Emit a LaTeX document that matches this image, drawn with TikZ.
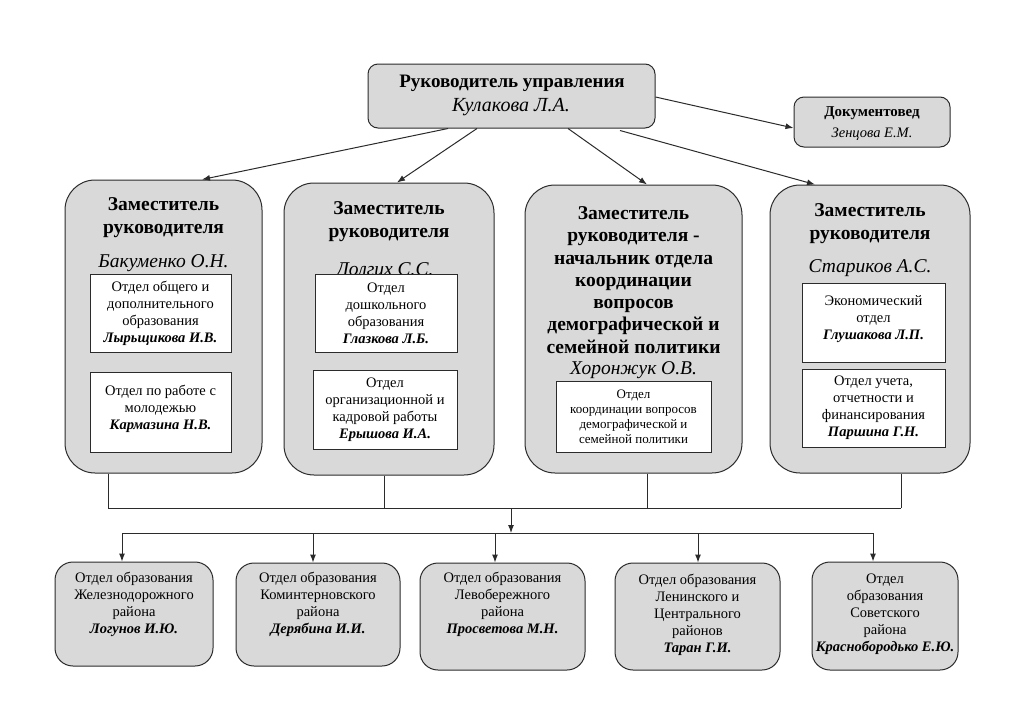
\documentclass[tikz,border=0pt]{standalone}
\usepackage{fontspec}
\setmainfont{Liberation Serif}
\usepackage{tikz}
\usetikzlibrary{arrows.meta}
\definecolor{boxgray}{HTML}{D9D9D9}
\definecolor{edgegray}{HTML}{2B2B2B}
\newcommand{\bfi}[1]{\textbf{\textit{#1}}}

\begin{document}
\begin{tikzpicture}[x=1pt, y=-1pt,
    graybox/.style={draw=edgegray, fill=boxgray, line width=1pt, rounded corners=#1, inner sep=0pt},
    whitebox/.style={draw=edgegray, fill=white, line width=0.9pt, inner sep=0pt, align=center,
        font=\fontsize{14.5}{17}\selectfont},
    titletext/.style={align=center, inner sep=0pt, font=\fontsize{19.5}{22.3}\selectfont\bfseries},
    nametext/.style={inner sep=0pt, font=\fontsize{19.5}{22}\selectfont\itshape},
    bodytext/.style={align=center, inner sep=0pt, anchor=north, font=\fontsize{14.5}{17}\selectfont},
    link/.style={draw=edgegray, line width=1pt},
    arr/.style={link, -{Latex[length=8pt, width=6pt]}}]
        \useasboundingbox (0,0) rectangle (1024,723);
        \fill [white] (0,0) rectangle (1024,723);
        \node[graybox=10pt, minimum width=287pt, minimum height=64pt] (head) at (511.5,96) {};
        \node[titletext, font=\fontsize{19}{22}\selectfont\bfseries] (headtitle) at (512,83) {Руководитель управления};
        \node[nametext, font=\fontsize{20}{22}\selectfont\itshape] (headname) at (511,107) {Кулакова Л.А.};
        \node[graybox=10pt, minimum width=156pt, minimum height=50pt] (doc) at (872,122) {};
        \node[titletext, font=\fontsize{15}{17}\selectfont\bfseries] (doctitle) at (872,113) {Документовед};
        \node[nametext, font=\fontsize{14.5}{17}\selectfont\itshape] (docname) at (872,134) {Зенцова Е.М.};
        \node[graybox=30pt, minimum width=197pt, minimum height=293pt] (dep1) at (163.5,326.5) {};
        \node[graybox=30pt, minimum width=210pt, minimum height=292pt] (dep2) at (389,329) {};
        \node[graybox=30pt, minimum width=217pt, minimum height=288pt] (dep3) at (633.5,329) {};
        \node[graybox=30pt, minimum width=200pt, minimum height=288pt] (dep4) at (870,329) {};
        \node[titletext] (deptitle1) at (163.5,217.5) {Заместитель\\руководителя};
        \node[nametext] (depname1) at (163.5,263) {Бакуменко О.Н.};
        \node[titletext] (deptitle2) at (389,221.5) {Заместитель\\руководителя};
        \node[nametext] (depname2) at (385,271) {Долгих С.С.};
        \node[titletext] (deptitle3) at (633.5,280) {Заместитель\\руководителя -\\начальник отдела\\координации\\вопросов\\демографической и\\семейной политики};
        \node[nametext] (depname3) at (633.5,370) {Хоронжук О.В.};
        \node[titletext] (deptitle4) at (870,223.5) {Заместитель\\руководителя};
        \node[nametext] (depname4) at (870,268) {Стариков А.С.};
        \node[whitebox, minimum width=141pt, minimum height=78pt] (unit11) at (160.5,313) {Отдел общего и\\дополнительного\\образования\\\bfi{Лырьщикова И.В.}};
        \node[whitebox, minimum width=141pt, minimum height=80pt] (unit12) at (160.5,412) {Отдел по работе с\\молодежью\\\bfi{Кармазина Н.В.}\\[-7pt]};
        \node[whitebox, minimum width=142pt, minimum height=78pt] (unit21) at (386,313) {Отдел\\дошкольного\\образования\\\bfi{Глазкова Л.Б.}};
        \node[whitebox, minimum width=144pt, minimum height=79pt] (unit22) at (385,409.5) {Отдел\\организационной и\\кадровой работы\\\bfi{Ерышова И.А.}};
        \node[whitebox, minimum width=155pt, minimum height=71pt, font=\fontsize{13}{15}\selectfont] (unit31) at (633.5,416.5) {Отдел\\координации вопросов\\демографической и\\семейной политики};
        \node[whitebox, minimum width=143pt, minimum height=79pt] (unit41) at (873.5,322.5) {Экономический\\отдел\\\bfi{Глушакова Л.П.}\\[-8pt]};
        \node[whitebox, minimum width=143pt, minimum height=78pt] (unit42) at (873.5,408) {Отдел учета,\\отчетности и\\финансирования\\\bfi{Паршина Г.Н.}};
        \node[graybox=18pt, minimum width=158pt, minimum height=104pt] (dist1) at (134,614) {};
        \node[graybox=18pt, minimum width=164pt, minimum height=103pt] (dist2) at (318,614.5) {};
        \node[graybox=18pt, minimum width=165pt, minimum height=107pt] (dist3) at (502.5,616.5) {};
        \node[graybox=18pt, minimum width=165pt, minimum height=107pt] (dist4) at (697.5,616.5) {};
        \node[graybox=18pt, minimum width=146pt, minimum height=108pt] (dist5) at (885,616) {};
        \node[bodytext] (disttext1) at (134,572) {Отдел образования\\Железнодорожного\\района\\\bfi{Логунов И.Ю.}};
        \node[bodytext] (disttext2) at (318,572) {Отдел образования\\Коминтерновского\\района\\\bfi{Дерябина И.И.}};
        \node[bodytext] (disttext3) at (502.5,572) {Отдел образования\\Левобережного\\района\\\bfi{Просветова М.Н.}};
        \node[bodytext] (disttext4) at (697.5,574) {Отдел образования\\Ленинского и\\Центрального\\районов\\\bfi{Таран Г.И.}};
        \node[bodytext] (disttext5) at (885,574) {Отдел\\образования\\Советского\\района\\\bfi{Краснобородько Е.Ю.}};
        \draw[arr] ([xshift=-63.5pt]head.south) -- ([xshift=38.5pt]dep1.north);
        \draw[arr] ([xshift=-34.5pt]head.south) -- ([xshift=8pt]dep2.north);
        \draw[arr] ([xshift=56.5pt]head.south) -- ([xshift=13.5pt]dep3.north);
        \draw[arr] ([xshift=108.5pt, yshift=-2pt]head.south) -- ([xshift=-55pt]dep4.north);
        \draw[arr] ([yshift=-1pt]head.east) -- ([yshift=-6pt]doc.west);
        \foreach \x/\n in {108/1, 384/2, 647/3, 901/4}{
                \coordinate (up\n) at (\x,508);
                \draw[link] (up\n |- dep\n.south) -- (up\n);
            }
        \draw[link] (up1) -- (up4);
        \coordinate (upmid) at (511,508);
        \coordinate (downmid) at (511,533);
        \draw[arr] (upmid) -- (downmid);
        \foreach \x/\n in {122/1, 313/2, 495/3, 698/4, 873/5}{
                \coordinate (down\n) at (\x,533);
                \draw[arr] (down\n) -- (down\n |- dist\n.north);
            }
        \draw[link] (down1) -- (down5);
    \end{tikzpicture}
\end{document}
